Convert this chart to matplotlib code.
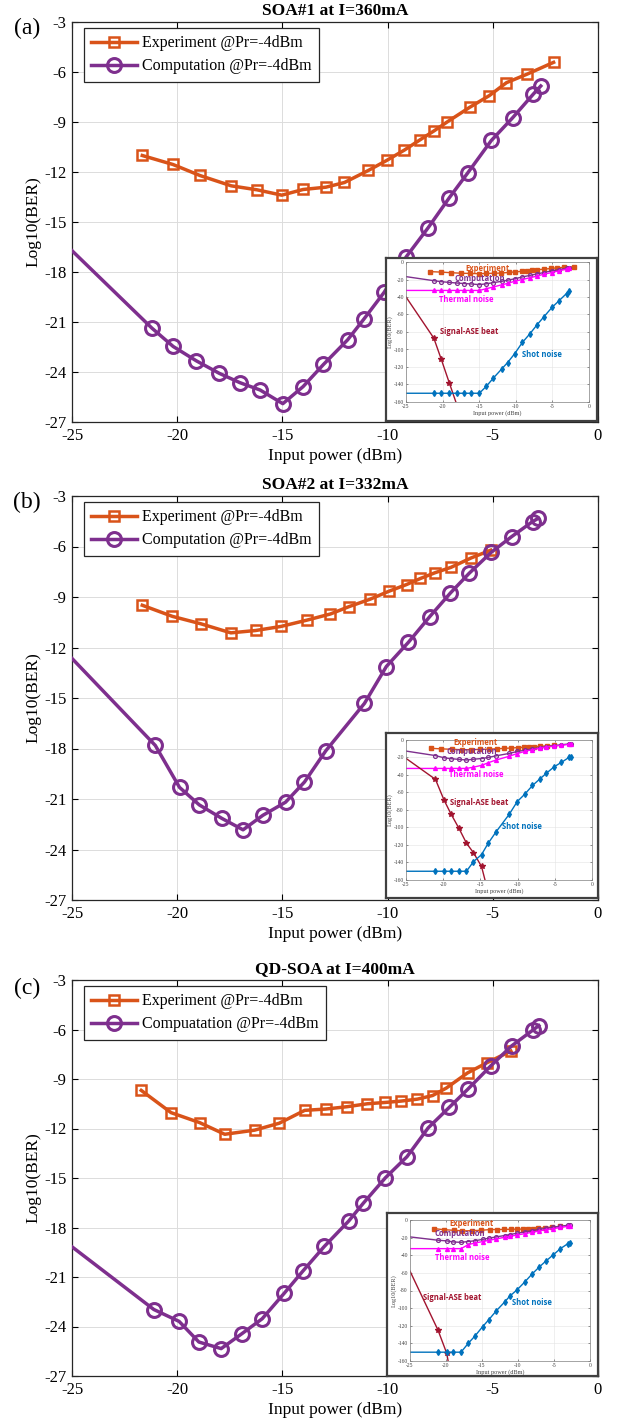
import matplotlib
matplotlib.use('Agg')
import matplotlib.pyplot as plt

# 使用一般連字號作為負號 (與原圖相同)
plt.rcParams['axes.unicode_minus'] = False

# --- 數據 (a) SOA#1 ---
a_exp_x = [-21.66, -20.2, -18.92, -17.43, -16.2, -15.03, -14.02, -12.93, -12.05, -10.92,
           -10.05, -9.21, -8.46, -7.79, -7.16, -6.1, -5.17, -4.35, -3.39, -2.11]
a_exp_y = [-11.01, -11.55, -12.21, -12.83, -13.07, -13.39, -13.05, -12.91, -12.63, -11.91,
           -11.31, -10.69, -10.07, -9.53, -8.99, -8.12, -7.42, -6.64, -6.14, -5.42]
a_comp_x = [-25, -21.2, -20.19, -19.09, -18.0, -17.02, -16.06, -14.98, -14.02, -13.05, -11.9,
            -11.13, -10.17, -9.11, -8.07, -7.07, -6.2, -5.07, -4.06, -3.07, -2.72]
a_comp_y = [-16.72, -21.37, -22.47, -23.33, -24.08, -24.64, -25.08, -25.9, -24.88, -23.55, -22.07,
            -20.83, -19.23, -17.08, -15.34, -13.55, -12.07, -10.11, -8.75, -7.32, -6.84]
a_thermal_y = [-32.5, -32.5, -32.5, -32.5, -32.5, -32.5, -32.5, -32.5, -30.5, -28.5, -26,
               -24.5, -22, -20, -18, -16, -14, -12, -10, -8, -7.3]
a_shot_y = [-150, -150, -150, -150, -150, -150, -150, -150, -142, -132.5, -122,
            -115, -105, -92, -82, -71.5, -63, -52, -44, -36, -33.5]
a_ase_x = [-25, -21.2, -20.19, -19.09, -17.9]
a_ase_y = [-40, -87, -111, -138, -167]

# --- 數據 (b) SOA#2 ---
b_exp_x = [-21.66, -20.23, -18.88, -17.45, -16.27, -15.07, -13.82, -12.72, -11.83, -10.83,
           -9.92, -9.1, -8.44, -7.75, -6.99, -6.03, -5.1]
b_exp_y = [-9.49, -10.15, -10.59, -11.13, -10.99, -10.75, -10.37, -10.01, -9.57, -9.13,
           -8.65, -8.26, -7.9, -7.56, -7.24, -6.68, -6.22]
b_comp_x = [-25, -21.04, -19.89, -18.95, -17.88, -16.87, -15.93, -14.85, -13.95, -12.94,
            -11.1, -10.06, -9.01, -8.0, -7.02, -6.13, -5.07, -4.1, -3.11, -2.83]
b_comp_y = [-12.65, -17.82, -20.31, -21.35, -22.15, -22.83, -21.97, -21.19, -19.99, -18.14,
            -15.32, -13.13, -11.69, -10.17, -8.77, -7.6, -6.34, -5.41, -4.52, -4.32]
b_thermal_y = [-32.5, -32.5, -32.5, -32.5, -32.5, -32.5, -31, -29, -26, -23,
               -18.5, -15.5, -13, -11, -9.5, -8, -7, -6, -5, -4.8]
b_shot_y = [-150, -150, -150, -150, -150, -150, -139, -131, -118, -105.5,
            -84.6, -70.5, -61.7, -52, -44.6, -38, -30.5, -25.5, -20, -19]
b_ase_x = [-25, -21.04, -19.89, -18.95, -17.88, -16.87, -15.93, -14.85, -14.2]
b_ase_y = [-21, -45, -68.6, -84.6, -101, -118, -128.8, -144.5, -166]

# --- 數據 (c) QD-SOA ---
c_exp_x = [-21.71, -20.29, -18.94, -17.74, -16.32, -15.15, -13.94, -12.93, -11.93, -10.96,
           -10.1, -9.37, -8.58, -7.86, -7.21, -6.2, -5.27, -4.14]
c_exp_y = [-9.69, -11.04, -11.64, -12.35, -12.1, -11.68, -10.9, -10.82, -10.68, -10.5,
           -10.42, -10.34, -10.22, -10.0, -9.55, -8.63, -8.01, -7.31]
c_comp_x = [-25, -21.11, -19.91, -18.97, -17.91, -16.92, -15.96, -14.91, -14.04, -13.01, -11.85,
            -11.15, -10.1, -9.08, -8.07, -7.07, -6.18, -5.1, -4.11, -3.1, -2.81]
c_comp_y = [-19.17, -22.97, -23.69, -24.94, -25.34, -24.43, -23.53, -21.98, -20.66, -19.15, -17.61,
            -16.52, -14.98, -13.71, -11.96, -10.72, -9.61, -8.21, -7.0, -6.04, -5.76]
c_thermal_y = [-32.5, -32.5, -32.5, -32.5, -32.5, -28, -26, -24.5, -23, -21.5, -19.5,
               -18.5, -17, -15.5, -14, -12.5, -11, -9.8, -8.5, -7.2, -6.8]
c_shot_y = [-150, -150, -150, -150, -150, -140, -131.5, -121, -113, -103, -93,
            -86.5, -79, -70.5, -61.5, -53.5, -47, -39.5, -32.5, -27, -26]
c_ase_x = [-25, -21.11, -19.91, -19.5]
c_ase_y = [-58, -125, -151, -169]

titles = ['SOA#1 at I=360mA', 'SOA#2 at I=332mA', 'QD-SOA at I=400mA']
panel_tags = ['(a)', '(b)', '(c)']
comp_labels = ['Computation @Pr=-4dBm', 'Computation @Pr=-4dBm', 'Compuatation @Pr=-4dBm']
exp_label = 'Experiment @Pr=-4dBm'
x_ticks = [-25, -20, -15, -10, -5, 0]
y_ticks = [-27, -24, -21, -18, -15, -12, -9, -6, -3]
inset_yticks = [-160, -140, -120, -100, -80, -60, -40, -20, 0]

ORANGE = '#D95319'
PURPLE = '#7E2F8E'
MAGENTA = '#FF00FF'
DARKRED = '#A2142F'
BLUE = '#0072BD'
SERIF = 'Liberation Serif'

W, H = 620, 1424


def box(l, t, r, b):
    # 像素框 -> figure 座標
    return [l / W, 1 - b / H, (r - l) / W, (b - t) / H]


panels = [
    dict(exp=(a_exp_x, a_exp_y), comp=(a_comp_x, a_comp_y), thermal=a_thermal_y, shot=a_shot_y,
         ase=(a_ase_x, a_ase_y), main=(72, 22, 598, 422), frame=(386, 258, 597, 421),
         inset=(406, 262, 589, 402), tag_y=28,
         txt={'Experiment': (-13.9, -7), 'Computation': (-14.9, -19), 'Thermal noise': (-16.8, -42.5),
              'Signal-ASE beat': (-16.3, -79), 'Shot noise': (-6.4, -105.6)}),
    dict(exp=(b_exp_x, b_exp_y), comp=(b_comp_x, b_comp_y), thermal=b_thermal_y, shot=b_shot_y,
         ase=(b_ase_x, b_ase_y), main=(72, 496, 598, 900), frame=(386, 733, 598, 898),
         inset=(406, 740, 592, 880), tag_y=502,
         txt={'Experiment': (-15.7, -3), 'Computation': (-16.1, -13.3), 'Thermal noise': (-15.6, -40),
              'Signal-ASE beat': (-15.1, -71.6), 'Shot noise': (-9.4, -99)}),
    dict(exp=(c_exp_x, c_exp_y), comp=(c_comp_x, c_comp_y), thermal=c_thermal_y, shot=c_shot_y,
         ase=(c_ase_x, c_ase_y), main=(72, 980, 598, 1376), frame=(387, 1213, 598, 1376),
         inset=(410, 1220, 590, 1361), tag_y=988,
         txt={'Experiment': (-16.4, -3.8), 'Computation': (-18.1, -15), 'Thermal noise': (-17.8, -42.4),
              'Signal-ASE beat': (-19.2, -88), 'Shot noise': (-8.1, -93.8)}),
]

txt_colors = {'Experiment': ORANGE, 'Computation': PURPLE, 'Thermal noise': MAGENTA,
              'Signal-ASE beat': DARKRED, 'Shot noise': BLUE}

fig = plt.figure(figsize=(W / 100, H / 100), dpi=100)

for i, p in enumerate(panels):
    ax = fig.add_axes(box(*p['main']))
    ex, ey = p['exp']
    cx, cy = p['comp']
    ax.plot(ex, ey, color=ORANGE, lw=2.5, marker='s', ms=7, mfc='none', mew=1.8,
            label=exp_label, zorder=3)
    ax.plot(cx, cy, color=PURPLE, lw=2.5, marker='o', ms=10, mfc='none', mew=2.2,
            markevery=list(range(1, len(cx))), label=comp_labels[i], zorder=3)
    ax.set_xlim(-25, 0)
    ax.set_ylim(-27, -3)
    ax.set_xticks(x_ticks)
    ax.set_yticks(y_ticks)
    ax.grid(True, color='#dcdcdc', lw=0.7)
    ax.set_axisbelow(True)
    ax.tick_params(direction='in', top=True, right=True, length=4, labelsize=12, pad=4)
    for lab in ax.get_xticklabels() + ax.get_yticklabels():
        lab.set_family(SERIF)
    for s in ax.spines.values():
        s.set_color('#262626')
        s.set_linewidth(0.9)
    ax.set_xlabel('Input power (dBm)', family=SERIF, fontsize=12.5, labelpad=3)
    ax.set_ylabel('Log10(BER)', family=SERIF, fontsize=12.5, labelpad=2)
    ax.set_title(titles[i], family=SERIF, fontsize=12.5, fontweight='bold', pad=5)
    leg = ax.legend(loc='upper left', bbox_to_anchor=(0.022, 0.985), prop={'family': SERIF, 'size': 11.5},
                    fancybox=False, framealpha=1, edgecolor='#262626', borderpad=0.45,
                    labelspacing=0.45, handlelength=2.9, handletextpad=0.3, borderaxespad=0.0)
    leg.get_frame().set_linewidth(0.9)
    fig.text(27 / W, 1 - p['tag_y'] / H, panel_tags[i], family=SERIF, fontsize=17,
             ha='center', va='center')

    # 插圖外框 (白底蓋住主圖)
    fr = fig.add_axes(box(*p['frame']))
    fr.set_xticks([])
    fr.set_yticks([])
    fr.set_facecolor('white')
    for s in fr.spines.values():
        s.set_color('#404040')
        s.set_linewidth(1.6)
    fr.set_zorder(5)

    ins = fig.add_axes(box(*p['inset']))
    ins.set_zorder(6)
    sx = cx
    ase_x, ase_y = p['ase']
    ins.plot(ex, ey, color=ORANGE, lw=1.0, marker='s', ms=2.2, mec=ORANGE, mfc=ORANGE)
    ins.plot(cx, cy, color=PURPLE, lw=1.0, marker='o', ms=2.8, mfc='none', mew=0.9,
             markevery=list(range(1, len(cx))))
    ins.plot(sx, p['thermal'], color=MAGENTA, lw=1.0, marker='^', ms=2.8,
             markevery=list(range(1, len(sx))))
    ins.plot(ase_x, ase_y, color=DARKRED, lw=1.0, marker='*', ms=4,
             markevery=list(range(1, len(ase_x) - 1)))
    ins.plot(sx, p['shot'], color=BLUE, lw=1.0, marker='d', ms=3,
             markevery=list(range(1, len(sx))))
    ins.set_xlim(-25, 0)
    ins.set_ylim(-160, 0)
    ins.set_xticks(x_ticks)
    ins.set_yticks(inset_yticks)
    ins.grid(True, color='#e3e3e3', lw=0.4)
    ins.set_axisbelow(True)
    ins.tick_params(direction='in', top=True, right=True, length=1.5, width=0.4,
                    labelsize=4, pad=1.5, colors='#404040')
    for lab in ins.get_xticklabels() + ins.get_yticklabels():
        lab.set_family(SERIF)
    for s in ins.spines.values():
        s.set_color('#808080')
        s.set_linewidth(0.5)
    ins.set_xlabel('Input power (dBm)', family=SERIF, fontsize=4.5, labelpad=0.5, color='#404040')
    ins.set_ylabel('Log10(BER)', family=SERIF, fontsize=4.5, labelpad=0.5, color='#404040')
    for name, (tx, ty) in p['txt'].items():
        ins.text(tx, ty, name, color=txt_colors[name], family='Open Sans', fontsize=5.5,
                 fontweight='bold', ha='center', va='center')

fig.savefig('out.png', dpi=100)
